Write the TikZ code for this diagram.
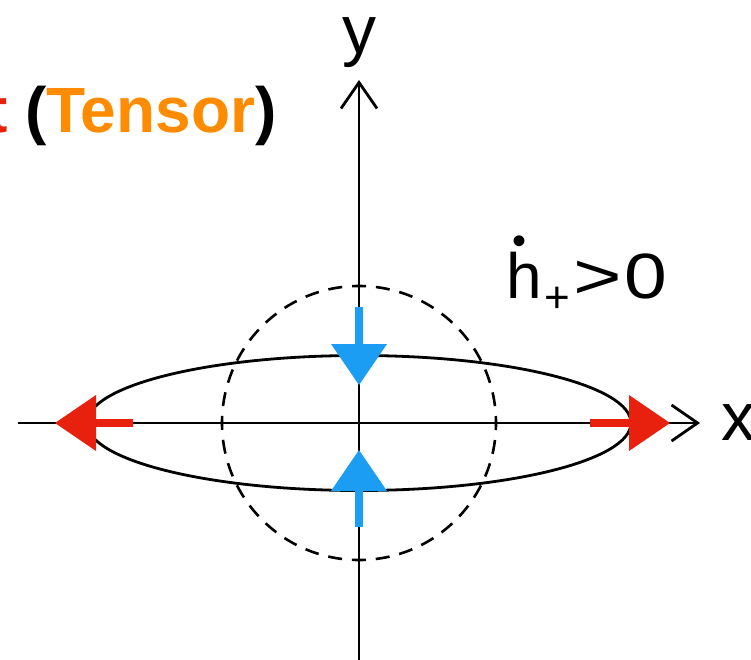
\documentclass[tikz,border=0pt]{standalone}
\usepackage{graphicx}
\usepackage{fontspec}
\setmainfont{Liberation Sans}
\usetikzlibrary{arrows.meta}
\definecolor{PolRed}{HTML}{E8200E}
\definecolor{PolBlue}{HTML}{1A9DF2}
\definecolor{PolOrange}{HTML}{FF8C00}
\tikzset{
  axisline/.style={line width=2.8pt,-{Straight Barb[length=26pt,width=36pt]}},
  pusharrow/.style={line width=8pt,-{Triangle[length=41pt,width=56pt,line width=0pt]}},
  bigtext/.style={inner sep=0pt,font=\fontsize{68}{68}\selectfont},
}

\begin{document}
\begin{tikzpicture}[x=1pt,y=-1pt]
    \useasboundingbox (0,0) rectangle (751,660);
    \clip (0,0) rectangle (751,660);
    \coordinate (O) at (359,423);
    \foreach \n/\x/\y in {xl/18/423,xr/700/423,yb/359/662,yt/359/80,
                          rl/133/423,rlt/55/423,rr/590/423,rrt/670/423,
                          bt/359/307,btt/359/385,bb/359/527,bbt/359/450}
      \coordinate (\n) at (\x,\y);
    % axes
    \draw[axisline] (xl)--(xr);
    \draw[axisline] (yb)--(yt);
    \node[bigtext,anchor=base] (ylab) at (359,54) {y};
    \node[bigtext,anchor=base west] (xlab) at (721,440) {x};
    % unperturbed ring and deformed ring
    \draw[line width=2.6pt,dash pattern=on 14pt off 9.91pt,dash phase=7pt] (O) circle[radius=137pt];
    \draw[line width=2.8pt] (O) ellipse[x radius=272pt,y radius=67.5pt];
    \draw[pusharrow,PolRed] (rl)--(rlt);
    \draw[pusharrow,PolRed] (rr)--(rrt);
    \draw[pusharrow,PolBlue] (bt)--(btt);
    \draw[pusharrow,PolBlue] (bb)--(bbt);
    \node[inner sep=0pt,anchor=base west,font=\fontsize{64}{64}\selectfont] (rate) at (506,298)
      {\rlap{\hspace{6pt}\raisebox{44pt}{\fontsize{40}{40}\selectfont •}}h\hspace{3pt}%
       \raisebox{-14pt}{\fontsize{44}{44}\selectfont +}\hspace{3pt}%
       \scalebox{1.3}[1]{>}\hspace{2pt}\scalebox{1.2}[1]{0}};
    \node[inner sep=0pt,anchor=base west,font=\fontsize{64}{64}\selectfont\bfseries] (title) at (-14,133)
      {\textcolor{PolRed}{t} (\textcolor{PolOrange}{Tensor})};
  \end{tikzpicture}
\end{document}
